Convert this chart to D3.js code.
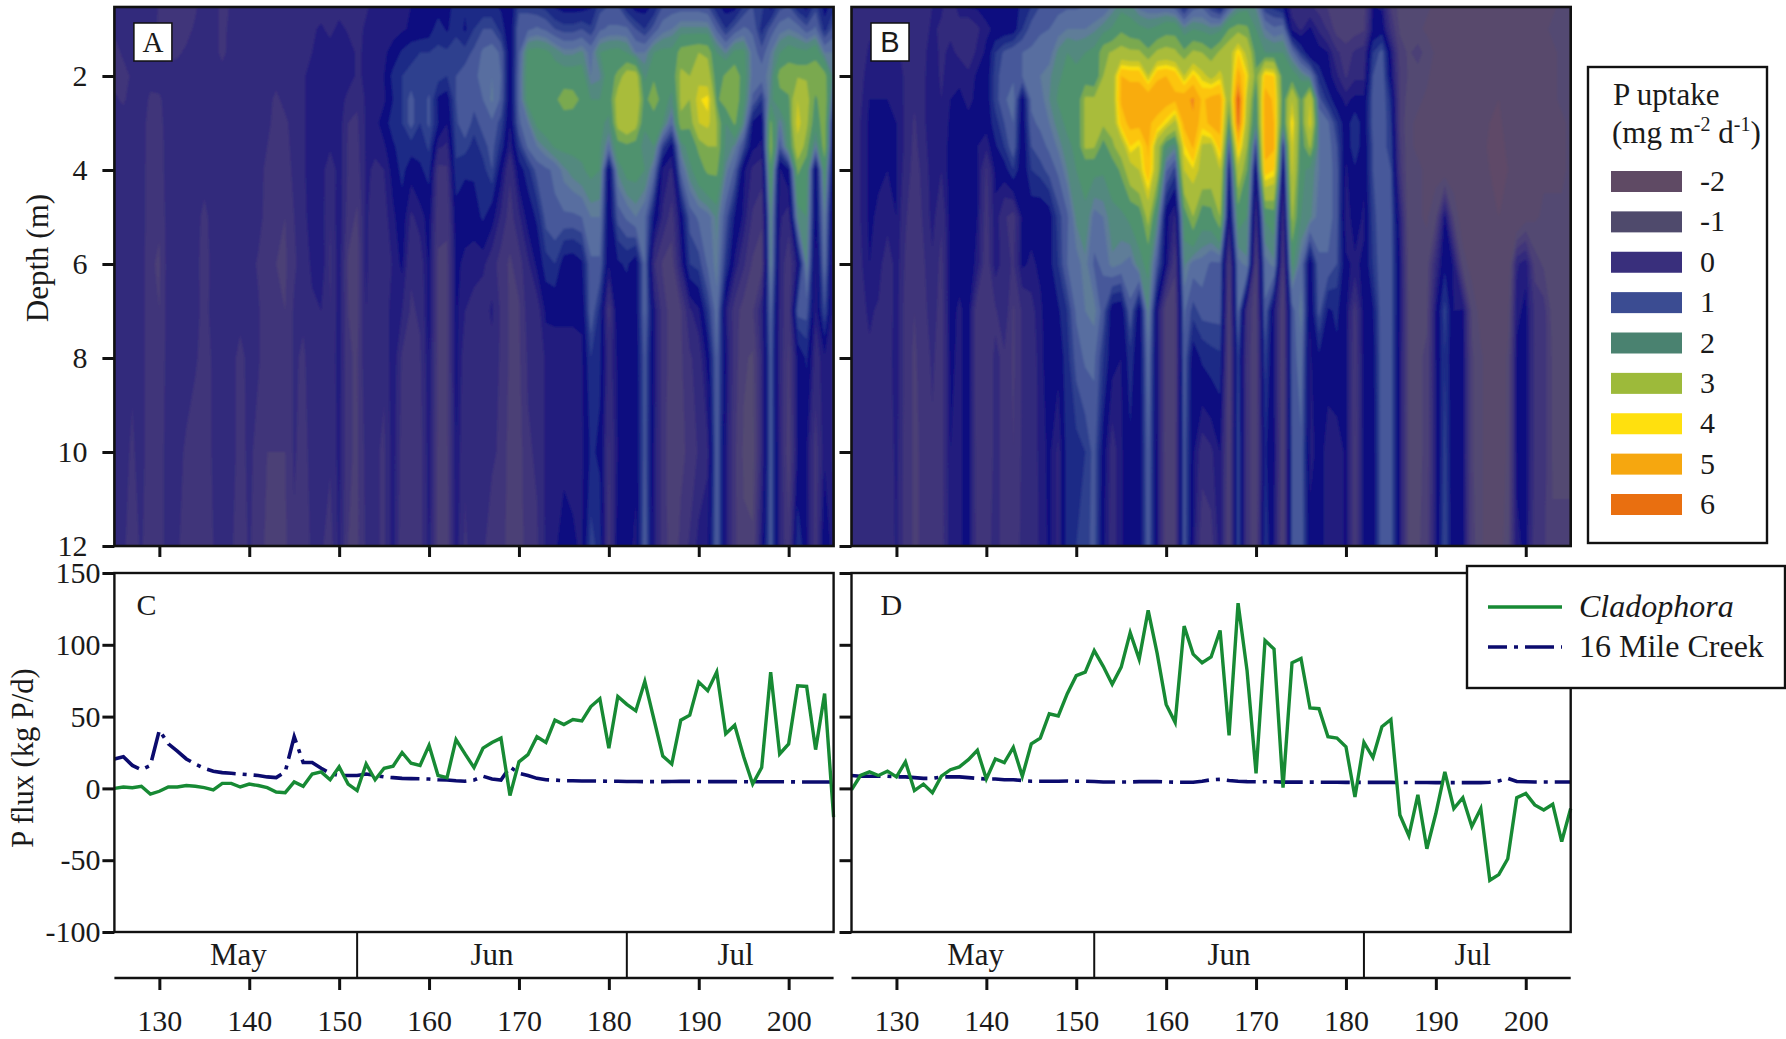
<!DOCTYPE html>
<html><head><meta charset="utf-8">
<script src="https://cdn.jsdelivr.net/npm/d3@7/dist/d3.min.js"></script>
<style>html,body{margin:0;background:#fff}svg{display:block}text{font-family:"Liberation Serif",serif;fill:#1a1a1a}</style>
</head><body><svg id="c" width="1786" height="1039"></svg>
<script>
const days = d3.range(125, 206);
const depths = [0.5,1,1.5,2,2.5,3,3.5,4,5,6,7,8,10,12];
const monthBreaks = [152,182];
const monthNames = ["May","Jun","Jul"];
const monthCentres = [138.8,167,194.1];
const dayTicks = [130,140,150,160,170,180,190,200];
const depthTicks = [2,4,6,8,10,12];
const fluxTicks = [150,100,50,0,-50,-100];
const legendValues = [-2,-1,0,1,2,3,4,5,6];
const legendColours = ["#5f4a64","#4f4a6c","#392f7c","#3b4c92","#4a8270","#9dba3a","#ffe00e","#f6a70f","#e96f10"];
const levels = [-3,-2.2,-1.05,-0.75,-0.45,-0.15,0.15,0.35,0.65,0.9,1.1,1.35,1.6,1.75,2.0,2.5,2.9,3.6,3.95,4.2,4.7,5.3,5.8];
const levelColours = ["#5e4868","#594a6c","#524a72","#4c3f76","#40357a","#33297c","#231d7e","#0a0a80","#1c2a86","#2e3f8e","#46599a","#586ea0","#5f7d98","#53897f","#4f926e","#7aa94f","#a9bc3a","#cfc924","#fbe010","#fcc50f","#f9ac10","#f0881a","#e4610f"];

const a05=[-.1,-.1,-.1,-.1,.1,-.2,-.3,-.3,-.2,-.2, 0,.1,-.3,-.1,0,0,0,0,0,0, 0,0,0,0,0,0,0,.05,.1,.25, .25,.2,.25,.35,.4,.4,.5,.6,.7,.7, .7,.7,.7,.6,.4,1,1,.9,.8,.6, .5,.5,.5,.6,1,1.1,1.1,.7,.5,.5, .7,1.1,1.2,1.2,1.2,1.2,1.1,.7,.5,.5, .9,1.1,1,.5,1,1.1,.7,.5,1,.5, .8];
const a10=[-.1,0,0,0,.1,-.25,-.3,-.3,-.25,-.1, 0,.1,-.3,0,0,0,0,0,0,0, 0,0,.1,.2,.05,.25,.1,.05,.2,.2, .2,.25,.3,.4,.45,.5,.8,.6,.85,.6, .9,1.1,1.1,.8,.4,1.3,1.3,1.4,1.3,1.1, 1,1,1.1,.95,1.3,1.4,1.4,1.4,1.1,.9, 1.2,1.5,1.6,1.8,1.8,1.8,1.8,1.3,.9,1.2, 1.4,1.3,.8,1.2,1.5,1.6,1.5,1.2,1.4,.8, 1.2];
const a15=[-.25,-.1,0,0,0,-.2,-.25,-.2,-.1,0, .1,0,-.25,0,0,0,0,0,0,0, 0,.05,.15,.3,.3,.3,.3,.1,.2,.25, .3,.45,.7,.85,.9,.9,.95,.95,1,1, 1.15,1.4,1.5,1.3,.4,1.3,2.1,2.15,2.1,1.9, 1.7,1.7,1.8,1.5,2,2.1,2.15,2,1.6,1.6, 2,2.1,2.1,2.7,2.8,2.9,2.8,2,1.7,2.1, 2.1,1.5,1.2,1.6,2,2.2,2.1,2.1,2.3,1.6, 1.6];
const a20=[-.25,-.25,-.1,-.1,-.05,0,0,0,0,0, 0,0,0,0,0,0,0,0,0,-.05, .05,.1,.3,.3,.3,.3,.3,.1,.2,.25, .35,.75,.9,.95,.95,.95,1,.9,1.1,1.2, 1.25,1.5,1.6,1.35,.4,1.4,2.2,2.3,2.3,2.2, 2.2,2.2,2.2,1.6,1.7,2.3,2.6,3.2,3.2,1.9, 2.4,2.2,2.2,3,2.9,3.4,3.2,2.2,2.6,2.9, 2.2,1.5,1.5,1.7,2.7,2.9,2.85,2.85,2.9,2.7, 1.7];
const a25=[-.1,-.2,0,0,-.2,-.2,0,0,0,0, 0,0,0,0,0,0,0,0,-.25,0, .05,.1,.3,.3,.3,.3,.05,-.1,.2,.25, .3,.65,.9,1.2,.9,1.15,.6,.5,1.1,1.35, 1.2,1.35,1.65,1.3,.4,1.4,2.15,2.3,2.4,2.4, 2.75,2.7,2.4,2,2,2.2,3.2,3.5,3.4,2.3, 2.9,2.2,1.9,3,2.9,3.9,4.1,2.4,2.8,2.9, 2.1,1.3,.9,1.9,2.3,2.4,3.6,3.1,2.4,2.9, 1.2];
const a30=[0,0,0,0,-.3,-.25,0,0,0,0, 0,0,0,0,0,0,0,-.05,-.3,-.25, .05,.1,.3,.3,.3,.3,-.15,-.2,.2,.25, .5,.8,.9,1.2,.9,1.15,.65,.35,1.05,1.3, 1,1.2,1.3,1,.35,1.3,1.6,2.1,2.3,2.2, 2.2,2.2,2.15,2.1,2.1,1.9,3.1,3.4,3.1,2.1, 2.1,2,1.4,2.8,2.6,3.6,3.8,2.9,2,2.6, 1.8,.6,.45,2.6,1.6,2.2,3.9,3,2.2,2.8, .6];
const a35=[0,0,0,0,-.3,-.3,0,0,0,0, 0,0,0,0,0,0,0,-.15,-.3,-.3, 0,.1,.3,.3,.2,.3,-.2,-.25,.2,.2, .3,.6,.8,.8,.75,.95,.2,.1,.95,1, .8,1,1.2,.8,.2,.9,1.4,1.6,1.8,2.05, 2.1,2.1,2.1,2.1,2.05,1.5,2.3,2.4,2.3,1.8, 2,1,.5,1.8,2.2,2.6,2.9,2.9,1.9,1.7, 1.1,.4,.3,2.8,1.2,2.1,3.3,2.7,1.6,2.8, .4];
const a40=[0,0,0,0,-.35,-.3,0,0,0,0, 0,0,0,0,0,0,0,-.25,-.35,-.35, -.05,.1,.3,.3,-.1,.3,-.2,-.3,.2,.1, .15,.45,.75,.45,.6,.75,-.25,-.2,.85,.7, .7,.8,1.1,.45,-.1,.5,.8,1.2,1.3,1.4, 1.7,1.85,1.95,2.1,2,.4,1.8,2.15,2.15,2, 1.5,.3,.1,1.4,1.9,2.3,2.6,2.6,1.7,1.3, .4,.1,0,2.4,.3,.6,2.6,2.2,.4,2.2, .3];
const a50=[0,0,0,0,-.35,-.4,0,0,0,0, -.25,0,0,0,0,0,0,-.3,-.4,-.45, -.15,.05,.3,.3,-.15,.35,-.3,-.5,.2,-.05, .05,.3,.5,.1,.25,.45,-.35,-.4,.5,.45, .5,.7,.45,.1,-.3,.1,.45,.7,1.2,1.3, 1.3,1.3,1.35,1.6,1.6,.35,1.2,1.4,1.6,1.4, .6,.1,-.3,.45,1.2,1.4,1.5,1.8,1.2,.6, .3,-.2,-.4,1.9,.2,0,1.8,2,.4,1.7, .1];
const a60=[0,0,0,0,-.4,-.5,0,0,0,0, -.35,0,0,0,0,0,-.2,-.4,-.45,-.5, -.2,0,.2,.35,-.2,.3,-.5,-.6,.2,-.1, -.15,.2,.4,-.1,0,.4,-.5,-.5,.4,.3, .2,.2,0,-.3,-.5,-.3,.1,.4,.8,.9, .5,.45,.6,1.3,1.3,.35,.6,.7,.45,1.4, -.1,-.5,-.6,.2,.9,1,1.4,1.7,.9,.3, -.1,-.5,-.6,1.8,.1,-.4,.35,1.8,.2,1.5, 0];
const a70=[0,0,0,0,-.4,-.45,0,0,0,0, -.3,0,0,-.1,0,0,-.1,-.4,-.45,-.45, -.1,-.1,.1,.15,-.15,.3,-.45,-.55,.15,0, -.1,.35,.15,-.2,-.1,.4,-.5,-.5,.4,.15, .1,0,.2,-.2,-.5,-.5,0,0,.4,.4, .4,.4,.4,1.3,.8,-.3,.6,.45,.45,1.4, .35,-.3,-.6,-.5,.1,.3,.9,1.5,.25,-.3, -.6,-.5,.1,1.4,.05,-.4,1.2,1.2,.2,1.1, .1];
const a80=[0,0,-.1,0,-.4,-.4,0,0,0,-.1, -.3,-.1,0,0,-.3,0,-.1,-.4,-.45,-.45, -.1,-.2,0,.05,-.1,.3,-.4,-.5,.1,0, -.1,.35,-.2,-.3,-.2,.35,-.5,-.5,.4,0, 0,0,.05,-.2,-.5,-.5,-.1,-.1,.2,.25, .25,.25,.3,.9,.7,0,.4,.45,.45,1.2, .35,-.3,-.6,-.5,-.2,0,.45,1.35,.4,-.3, -.7,-.8,0,1.25,.05,-.5,.4,.7,0,.3, .1];
const a100=[-.1,-.05,-.2,0,-.4,-.3,0,-.05,-.2,-.35, -.35,-.1,0,0,-.3,-.05,-.3,-.45,-.45,-.45, -.1,-.3,0,-.05,-.1,.25,-.4,-.5,-.05,-.1, -.2,.3,-.3,-.4,-.3,.3,-.55,-.55,.35,-.1, 0,0,-.1,-.2,-.6,-.6,-.2,-.1,.2,.2, .25,.25,.3,.7,.6,-.2,.35,.4,.4,1.2, .3,-.3,-.7,-.5,-.4,-.1,.1,1.35,.3,-.4, -.8,-.9,0,1.25,.1,-.6,.35,.35,-.3,.3, .1];
const a120=[-.1,-.1,-.3,-.1,-.4,-.3,0,-.1,-.3,-.45, -.4,-.15,0,-.1,-.35,-.1,-.35,-.5,-.5,-.5, -.2,-.3,-.1,-.1,-.3,.2,-.45,-.5,-.1,-.1, -.2,.3,-.4,-.4,-.3,.25,-.55,-.6,.3,-.2, 0,-.1,-.3,-.3,-.6,-.6,-.3,-.2,.2,.3, .5,.4,.3,1,.8,-.3,.5,.45,.3,1.3, .3,-.3,-.6,-.4,-.1,.25,.3,1.35,.3,-.4, -.7,-.7,.3,1.25,.1,-.4,.9,.4,-.3,.6, .2];

const b05=[-.1,-.1,-.05,0,0,0,-.1,-.15,-.1,.15, .2,-.05,.3,.4,.4,.45,.45,.5,.55,.7, .9,1.1,1.2,1.25,1.3,1.3,1.35,1.35,1.4,1.6, 1.85,1.8,1.5,1.4,1.35,1.35,1.2,.7,1.2,1.3, .9,.6,1.2,1.7,1.85,1.7,.9,.8,.6,0, -.2,-.1,-.3,-.5,-.7,-.7,-.7,-.6,.35,.3, -.5,-.9,-1,-1,-1,-1.1,-1.2,-1.2,-1.3,-1.3, -1.3,-1.3,-1.3,-1.2,-1.2,-1.1,-1.1,-1.1,-1.1,-1, -1];
const b10=[-.1,-.1,.1,.1,.1,.1,-.05,-.15,.05,.2, .1,.1,0,-.1,.1,.3,.4,.45,.5,.9, 1.2,1.3,1.35,1.5,1.6,1.6,1.6,1.7,1.85,2.05, 2.4,2.2,2.1,2,2.1,2.3,2.3,1.8,2,1.9, 1.8,1.9,2.5,2.7,2.6,2,1.6,1.4,1.5,.3, .1,.4,.1,-.2,-.6,-.7,-.6,-.5,.4,.5, -.2,-.8,-1,-1,-1.1,-1.1,-1.2,-1.3,-1.4,-1.4, -1.4,-1.4,-1.4,-1.3,-1.2,-1.1,-1.1,-1.1,-1,-1, -1];
const b15=[-.1,0,.2,.2,.2,.2,.05,-.05,.1,.25, .1,.2,.1,0,.2,.4,.9,1.15,1.3,1.35, 1.4,1.5,1.5,1.8,2,1.9,2,2.1,2.8,2.95, 3.1,3,3,2.6,3,3.1,3,2.6,3,2.9, 2.6,3,3.3,4.2,3.4,2.3,2,2,2,1.5, .9,.4,.45,.35,-.1,-.3,-.1,0,.9,1.2, .35,-.6,-.8,-.6,-.9,-1.1,-1.3,-1.4,-1.5,-1.5, -1.5,-1.5,-1.5,-1.4,-1.3,-1.2,-1.1,-1.1,-1.1,-1, -1];
const b20=[-.1,.05,.3,.3,.3,.3,.1,.05,.1,.3, .1,.3,.3,.2,.4,.45,1,1.25,1.3,1.35, 1.4,1.6,1.7,1.95,2.1,2.1,2.2,2.1,2.9,3.2, 4.7,4.6,4.6,3.6,4.6,4.7,4.5,3.6,4.3,3.8, 3.4,3.8,3,5,4,2.6,4.4,4.2,2.1,2.2, 1.9,1.6,.8,.45,.2,-.2,.1,.1,1.1,1.3, .45,-.5,-.8,-.9,-1,-1.2,-1.4,-1.5,-1.6,-1.7, -1.8,-1.8,-1.8,-1.6,-1.4,-1.2,-1.1,-1.1,-1.1,-1, -1];
const b25=[-.1,.1,.35,.35,.35,.3,.1,-.1,.1,.3, .15,.35,.4,.3,.4,.45,1,1.3,1.5,.45, 1.4,1.5,1.75,2.05,2.15,2.15,3,3,3,3.2, 4.8,5,5,5.2,5.1,5,4.8,5.1,5.4,4.6, 4.9,5,2.9,6.2,3.5,2.1,5,4.6,2.2,3.6, 2.4,3.6,1.2,.8,.45,.3,.4,.4,1.2,1.3, .8,-.5,-.9,-1,-1.1,-1.2,-1.4,-1.5,-1.6,-1.8, -2,-2.2,-2.2,-1.9,-1.6,-1.3,-1.1,-1.1,-1.1,-1, -1];
const b30=[-.1,.15,.4,.4,.4,.35,.1,-.2,.1,.3, .15,.4,.45,.4,.4,.45,.8,1.1,1.35,.4, 1.3,1.4,1.6,1.85,2.1,2.15,3,3,3,3.1, 4.4,4.9,4.9,4.8,4.5,4,3.4,4.9,5.2,4.4, 4.9,4.9,2.2,5.9,3.2,1.9,5,4.7,2,4.2, 2.3,3.9,1.6,1.4,.9,.45,.9,.45,1.2,1.3, .9,-.5,-1,-1.1,-1.2,-1.2,-1.3,-1.4,-1.5,-1.7, -1.9,-2.2,-2.3,-2,-1.7,-1.3,-1.2,-1.1,-1.1,-1.1, -1];
const b35=[-.05,.15,.4,.4,.4,.35,.1,-.25,.05,.3, .15,.45,.45,.4,.35,.2,.6,.9,1.3,.35, 1.1,1.25,1.4,1.65,1.9,2.1,3,2.95,2.3,2.8, 3.2,4.2,3.9,4.8,3.2,2.1,1.8,4.1,4.8,3.5, 3.4,4.5,1.2,4.5,2.9,1,5,4.8,.8,3.9, 2.2,3,1.6,1.5,1.1,.4,.9,.4,1.1,1.2, 1,-.4,-1,-1.1,-1.2,-1.2,-1.3,-1.4,-1.5,-1.7, -2,-2.3,-2.4,-2.1,-1.7,-1.3,-1.2,-1.1,-1.1,-1.1, -1];
const b40=[-.05,.15,.4,.4,.35,.35,.05,-.3,-.05,.3, .15,.45,.45,.45,.4,-.2,.4,.5,.9,.4, .9,1,1.2,1.4,1.75,2,2.1,2.1,2.05,2.2, 2.6,3.3,3.6,4.6,3.2,1.4,1,3.6,3.9,3.4, 3.3,3.6,.6,3.4,2.5,.4,4.5,4.2,.3,3.7, 2.1,1.9,1.6,1.5,1.2,.3,.6,.4,1.1,1.2, 1.1,-.3,-1,-1,-1.1,-1.2,-1.3,-1.3,-1.4,-1.6, -1.9,-2.2,-2.4,-2.2,-1.8,-1.3,-1.2,-1.1,-1.1,-1.1, -1];
const b50=[-.05,.15,.4,.3,.3,.35,-.1,-.4,-.1,.25, -.1,.45,.45,.45,.35,-.3,.3,-.1,-.3,.4, .45,.4,.5,1,1.3,1.8,1.95,1.5,1.6,1.9, 1.9,2.1,2.2,3.1,1.9,.45,.1,2.2,2.9,2.2, 2.3,2.9,.3,2.2,2,-.1,2.05,2.2,-.2,3, 2,1.8,1.5,1.5,1.2,.2,.5,.3,1,1.3, 1.2,.2,-1,-1,-1.1,-.8,.4,-.8,-1.3,-1.4, -1.7,-2,-2.2,-2,-1.6,-1.2,-1.1,-1,-1,-1, -.9];
const b60=[-.05,.1,.35,.3,-.1,.3,-.2,-.45,-.2,.1, -.25,.45,.45,.45,.3,-.4,.3,0,-.2,.4, .3,.4,.55,.9,1.35,1.5,1.7,1.3,1.4,1.7, 1.6,1.5,1.9,2.1,1.2,.4,-.4,1.8,1.5,1.5, 1.3,1.3,-.5,1.5,1.7,-.6,1.5,1.7,-.5,2.1, 1.5,.4,1.3,1.3,1.1,.4,.3,.4,.9,1.3, 1.2,.35,-.9,-.9,-.9,0,.6,.3,-.9,-1.2, -1.5,-1.8,-2,-1.5,.1,.3,-.6,-.8,-1,-1, -.9];
const b70=[-.05,.05,.2,.1,-.1,.3,-.3,-.45,-.25,0, -.3,.45,.3,.45,-.4,-.3,-.2,.1,-.5,-.1, .05,.3,.5,.6,.9,1.4,1.6,1.7,1.2,.45, .4,1.3,.4,1.8,.35,-.7,-.6,1.4,1,1.2, 1.2,1.2,-.7,1.4,-.2,-.7,1.3,.3,-.7,1.2, 1.7,.35,1.2,.6,.7,.4,-.3,.45,.6,1.3, 1.2,.35,-.8,-.9,-.8,.35,1,.35,.4,-.8, -1.2,-1.5,-1.6,-1.2,.3,.4,-.2,-.3,-.9,-.9, -.8];
const b80=[-.05,0,.1,0,0,.3,-.3,-.5,-.3,-.1, -.3,.4,.3,.45,-.4,-.3,-.1,-.2,-.5,-.1, -.1,.3,.45,.45,.8,1.2,1.4,1.4,.9,.45, .35,.8,.4,1.5,.35,-.7,-.6,1.3,.45,.7, .8,.85,-.7,1,-.3,-.7,1,.3,-.7,1.2, 1.5,.3,.6,.4,.6,.4,-.4,.45,.5,1.3, 1.2,.3,-.8,-.8,-.7,.35,.9,.35,.45,-.7, -1,-1.2,-1.3,-1,.4,.45,-.2,-.3,-.8,-.8, -.8];
const b100=[-.1,-.1,-.1,-.1,-.1,.25,-.3,-.5,-.4,-.2, -.3,.35,.3,.45,-.35,-.3,-.1,-.2,-.45,-.1, -.1,.25,.4,.1,.8,.8,.9,1.2,.5,0, .3,.6,.4,1.35,.35,-.7,-.5,1.2,.4,0, .1,.35,-.7,1.1,-.3,-.7,.7,.4,-.7,1.1, 1.3,.3,.4,.3,.2,.4,-.5,.45,.45,1.3, 1.2,.3,-.8,-.8,-.7,.3,1,.35,.45,-.7, -1,-1.2,-1.3,-1,.4,.45,-.2,-.3,-.8,-.8, -.8];
const b120=[-.1,-.1,-.1,-.1,-.1,.2,-.3,-.5,-.4,-.2, -.3,.3,.3,.45,-.3,-.2,-.1,-.2,-.4,-.05, -.1,.2,.4,.1,.8,.9,1,1.2,.4,0, .3,.6,.4,1.3,.35,-.7,-.5,1.2,.35,-.4, -.3,.3,-.7,1.1,-.3,-.7,.9,.3,-.7,1.1, 1.3,.4,.4,.3,.2,.4,-.5,.45,.45,1.3, 1.2,.3,-.8,-.8,-.6,.3,1.1,.35,.45,-.6, -1,-1.2,-1.2,-.9,.3,.4,-.3,-.4,-.7,-.7, -.7];

const cladophoraC=[0,1,.5,1.5,-4,-2,1,1,2,1.5, .5,-1,3.5,3.5,1,3,2,.5,-2.5,-3, 4.5,1.5,10,11.5,6,15,3,-1.5,17,6, 14,15.5,25,17.5,16,30,9,7.5,34,24, 14.5,28,32,35,-5,18.5,23.5,36,32,47.5, 44.5,48,47,57,62.5,28,64,58.5,54,74.5, 48.5,22.5,17,47.5,51,74,68,81,38,44, 22,3,14.5,81,24,31,71.5,71,27,66, -20];
const creekC=[20.5,22,16,13,16,40.5,31,26,20.5,17, 14,12,11,10.5,10,9.5,9,8,7.5,11.5, 36,18,18,14,10.5,9,9,9,10,9, 8,7.5,7,6.8,6.7,6.5,6,5.8,5.3,5, 5.8,8.5,6.5,5.8,15,10.5,9,7,6,5.8, 5.3,5.3,5.2,5.2,5.1,5,5,4.8,4.8,4.7, 4.7,4.7,4.8,4.9,4.9,4.8,4.7,4.7,4.7,4.7, 4.6,4.6,4.6,4.6,4.6,4.6,4.5,4.5,4.5,4.5, 4.5];
const cladophoraD=[-1,9,11.5,9,12,8,18.5,-1.5,3,-3, 8.5,13,15,20,26.5,6.5,20.5,18,28.5,8.5, 31,35,52,50.5,66,78.5,81,96,85,72.5, 84.5,108.5,90,124,94,58.5,46,113,93.5,87.5, 91.5,110,37,129,82,10.5,103,97,.5,87.5, 90.5,56,55.5,36,35,29,-6,32,21.5,43, 48,-18.5,-33,-4.5,-42,-17.5,11.5,-14,-6.5,-26.5, -14,-64,-60,-49,-6.5,-3.5,-11.5,-15,-11,-37, -14];
const creekD=[9,8.5,8.5,8.5,8.5,8,8,7.5,7,7, 8,8,8,7.5,7,6.5,6.5,6,6,5.5, 5,5,5,5,5.2,5,5,4.8,4.5,4.5, 4.5,4.5,4.7,4.7,4.7,4.5,4.3,4.3,4.3,5, 6,6.3,5.5,5,4.7,4.6,4.6,4.6,4.4,4.4, 4.4,4.4,4.3,4.3,4.3,4.2,4.2,4.2,4.2,4.2, 4.2,4.1,4.1,4.1,4.1,4,4,4,4,4, 4,4.3,5.2,7,4.8,4.6,4.5,4.5,4.5,4.5, 4.5];

const svg = d3.select("#c");
const serif = '"Liberation Serif",serif';
const defs = svg.append("defs");
defs.append("filter").attr("id","soft").attr("x","-2%").attr("y","-2%").attr("width","104%").attr("height","104%")
  .append("feGaussianBlur").attr("stdDeviation",0.8);

const panelW = 719.2, topY = 7, heatBottom = 546, lowTop = 573, lowBottom = 932, bandBottom = 978;
const lefts = [114.4, 851.5];
const xScales = lefts.map(l => d3.scaleLinear().domain([125,205]).range([l,l+panelW]));
const yDepth = d3.scaleLinear().domain([2,12]).range([76,heatBottom]);
const yFlux = d3.scaleLinear().domain([150,-100]).range([lowTop,lowBottom]);
const depthOfRow = d3.scaleLinear().domain(d3.range(depths.length)).range(depths);

function flatten(rows){ rows.forEach(r=>{ if(r.length!==days.length) throw new Error("row length "+r.length); }); return rows.flat(); }
function styleAxis(a){
  a.select(".domain").remove();
  a.selectAll(".tick line").attr("stroke","#111").attr("stroke-width",3);
  a.selectAll("text").attr("font-size",30).attr("font-family",serif).attr("fill","#1a1a1a");
}

function heat(idx, rows, letter, letterFont){
  const x = xScales[idx], id = "clip"+idx;
  defs.append("clipPath").attr("id",id).append("rect").attr("x",x.range()[0]).attr("y",topY).attr("width",panelW).attr("height",heatBottom-topY);
  const proj = d3.geoTransform({point(px,py){ this.stream.point(x(days[0]+px-0.5), yDepth(depthOfRow(py-0.5))); }});
  const path = d3.geoPath(proj);
  const contours = d3.contours().size([days.length,depths.length]).thresholds(levels)(flatten(rows));
  const g = svg.append("g").attr("clip-path",`url(#${id})`).append("g").attr("filter","url(#soft)");
  g.append("rect").attr("x",x.range()[0]-4).attr("y",topY-4).attr("width",panelW+8).attr("height",heatBottom-topY+8).attr("fill",levelColours[0]);
  g.selectAll("path").data(contours).join("path").attr("d",path)
    .attr("fill",(d,i)=>levelColours[i]);
  svg.append("rect").attr("x",x.range()[0]).attr("y",topY).attr("width",panelW).attr("height",heatBottom-topY)
    .attr("fill","none").attr("stroke","#111").attr("stroke-width",2.6);
  const ya = svg.append("g").attr("transform",`translate(${x.range()[0]},0)`)
    .call(d3.axisLeft(yDepth).tickValues(depthTicks).tickSize(12).tickPadding(15).tickFormat(idx===0?d3.format("d"):""));
  styleAxis(ya);
  const xa = svg.append("g").attr("transform",`translate(0,${heatBottom})`)
    .call(d3.axisBottom(x).tickValues(dayTicks).tickSize(11).tickFormat(""));
  styleAxis(xa);
  const bx = x.range()[0]+19.5;
  svg.append("rect").attr("x",bx).attr("y",23).attr("width",38).attr("height",38).attr("fill","#fff").attr("stroke","#111").attr("stroke-width",1.5);
  svg.append("text").attr("x",bx+19).attr("y",52).attr("text-anchor","middle").attr("font-size",29).style("font-family",letterFont).text(letter);
}
heat(0,[a05,a10,a15,a20,a25,a30,a35,a40,a50,a60,a70,a80,a100,a120],"A",serif);
heat(1,[b05,b10,b15,b20,b25,b30,b35,b40,b50,b60,b70,b80,b100,b120],"B",'"Liberation Sans",sans-serif');

function low(idx, green, navy, letter){
  const x = xScales[idx], id="low"+idx, l=x.range()[0], r=x.range()[1];
  defs.append("clipPath").attr("id",id).append("rect").attr("x",l).attr("y",lowTop).attr("width",panelW+2).attr("height",lowBottom-lowTop);
  const line = d3.line().x((d,i)=>x(days[i])).y(d=>yFlux(d));
  const g = svg.append("g").attr("clip-path",`url(#${id})`);
  g.append("path").attr("d",line(navy)).attr("fill","none").attr("stroke","#0b0b6e").attr("stroke-width",3.6).attr("stroke-dasharray","29,7,4,7");
  g.append("path").attr("d",line(green)).attr("fill","none").attr("stroke","#178a34").attr("stroke-width",3.4).attr("stroke-linejoin","miter");
  svg.append("rect").attr("x",l).attr("y",lowTop).attr("width",panelW).attr("height",lowBottom-lowTop)
    .attr("fill","none").attr("stroke","#111").attr("stroke-width",2.4);
  const ya = svg.append("g").attr("transform",`translate(${l},0)`)
    .call(d3.axisLeft(yFlux).tickValues(fluxTicks).tickSize(12).tickPadding(2).tickFormat(idx===0?String:""));
  styleAxis(ya);
  monthBreaks.forEach(b=>svg.append("line").attr("x1",x(b)).attr("x2",x(b)).attr("y1",lowBottom).attr("y2",bandBottom).attr("stroke","#111").attr("stroke-width",2));
  const xa = svg.append("g").attr("transform",`translate(0,${bandBottom})`)
    .call(d3.axisBottom(x).tickValues(dayTicks).tickSize(12).tickPadding(20).tickFormat(d3.format("d")));
  styleAxis(xa);
  svg.append("line").attr("x1",l).attr("x2",r).attr("y1",bandBottom).attr("y2",bandBottom).attr("stroke","#111").attr("stroke-width",2.4);
  monthNames.forEach((m,i)=>svg.append("text").attr("x",x(monthCentres[i])).attr("y",965).attr("text-anchor","middle").attr("font-size",31).text(m));
  svg.append("text").attr("x",l+ (idx===0?22:29)).attr("y",615).attr("font-size",30).text(letter);
}
low(0,cladophoraC,creekC,"C");
low(1,cladophoraD,creekD,"D");

svg.append("text").attr("transform","translate(48,258) rotate(-90)").attr("text-anchor","middle").attr("font-size",31).text("Depth (m)");
svg.append("text").attr("transform","translate(33,758) rotate(-90)").attr("text-anchor","middle").attr("font-size",30.5).text("P flux (kg P/d)");

// colour legend
svg.append("rect").attr("x",1588).attr("y",67).attr("width",179).attr("height",476).attr("fill","#fff").attr("stroke","#111").attr("stroke-width",2.4);
svg.append("text").attr("x",1613).attr("y",105).attr("font-size",31).text("P uptake");
const t2 = svg.append("text").attr("x",1612).attr("y",143).attr("font-size",31);
t2.append("tspan").text("(mg m");
t2.append("tspan").attr("dy",-12).attr("font-size",20).text("-2");
t2.append("tspan").attr("dy",12).text(" d");
t2.append("tspan").attr("dy",-12).attr("font-size",20).text("-1");
t2.append("tspan").attr("dy",12).text(")");
const swatchY = d3.scaleLinear().domain([0,8]).range([171,494]);
legendValues.forEach((v,i)=>{
  svg.append("rect").attr("x",1611).attr("y",swatchY(i)).attr("width",71).attr("height",21).attr("fill",legendColours[i]);
  svg.append("text").attr("x",1700).attr("y",swatchY(i)+20).attr("font-size",30).text(v);
});

// line legend
svg.append("rect").attr("x",1467).attr("y",566).attr("width",318).attr("height",122).attr("fill","#fff").attr("stroke","#111").attr("stroke-width",2.4);
svg.append("line").attr("x1",1488).attr("x2",1562).attr("y1",607).attr("y2",607).attr("stroke","#178a34").attr("stroke-width",3.4);
svg.append("line").attr("x1",1488).attr("x2",1562).attr("y1",647).attr("y2",647).attr("stroke","#0b0b6e").attr("stroke-width",3.6).attr("stroke-dasharray","29,7,4,7").attr("stroke-dashoffset",10);
svg.append("text").attr("x",1579).attr("y",617).attr("font-size",32).attr("font-style","italic").text("Cladophora");
svg.append("text").attr("x",1579).attr("y",657).attr("font-size",32).text("16 Mile Creek");
</script></body></html>
